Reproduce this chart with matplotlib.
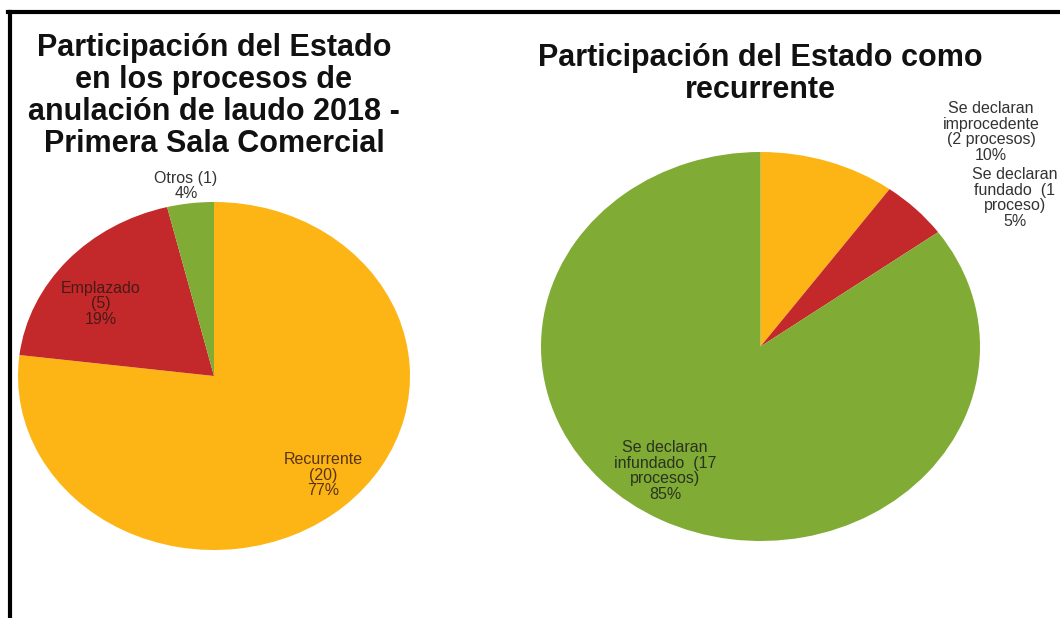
import matplotlib.pyplot as plt
from matplotlib.lines import Line2D

plt.rcParams['font.family'] = ['Liberation Sans', 'DejaVu Sans']

# Participation of the State in award annulment cases, 2018
rol_labels = ['Recurrente\n(20)\n77%', 'Emplazado\n(5)\n19%', 'Otros (1)\n4%']
rol_counts = [20, 5, 1]
rol_colors = ['#FDB515', '#C3282A', '#80AB34']
rol_text_colors = ['#5a3514', '#4a1a16', '#333333']
# label anchors in pie units
rol_label_pos = [(0.556, -0.569), (-0.577, 0.414), (-0.143, 1.092)]

# Outcome when the State is the appellant
rec_labels = ['Se declaran\nimprocedente\n(2 procesos)\n10%',
              'Se declaran\nfundado  (1\nproceso)\n5%',
              'Se declaran\ninfundado  (17\nprocesos)\n85%']
rec_counts = [2, 1, 17]
rec_colors = ['#FDB515', '#C3282A', '#80AB34']
rec_text_colors = ['#333333', '#333333', '#2a3320']
rec_label_pos = [(1.050, 1.103), (1.159, 0.763), (-0.435, -0.640)]

W, H = 1060, 618
fig = plt.figure(figsize=(W / 100, H / 100), dpi=100)
fig.patch.set_facecolor('white')


def px_axes(x0, y0, x1, y1):
    return fig.add_axes([x0 / W, 1 - y1 / H, (x1 - x0) / W, (y1 - y0) / H])


def draw_pie(ax, counts, colors, labels, label_pos, text_colors, title, pad):
    ax.pie(counts, colors=colors, startangle=90, counterclock=False,
           wedgeprops=dict(linewidth=0))
    ax.set_aspect('auto')
    ax.set_xlim(-1, 1)
    ax.set_ylim(-1, 1)
    ax.axis('off')
    for lab, (x, y), c in zip(labels, label_pos, text_colors):
        ax.text(x, y, lab, ha='center', va='center', fontsize=11.5,
                color=c, linespacing=1.05, clip_on=False)
    ax.set_title(title, fontsize=22, fontweight='bold', color='#111111',
                 linespacing=1.08, pad=pad)


ax1 = px_axes(18, 202, 410, 550)
draw_pie(ax1, rol_counts, rol_colors, rol_labels, rol_label_pos, rol_text_colors,
         'Participación del Estado\nen los procesos de\n'
         'anulación de laudo 2018 -\nPrimera Sala Comercial', 36)

ax2 = px_axes(541, 152, 980, 541)
draw_pie(ax2, rec_counts, rec_colors, rec_labels, rec_label_pos, rec_text_colors,
         'Participación del Estado como\nrecurrente', 39)

# black frame on the top and left edges
fig.add_artist(Line2D([8 / W, 1], [1 - 12 / H, 1 - 12 / H], color='black',
                      linewidth=3, transform=fig.transFigure))
fig.add_artist(Line2D([10 / W, 10 / W], [0, 1 - 12 / H], color='black',
                      linewidth=3, transform=fig.transFigure))

fig.savefig('out.png', dpi=100)
